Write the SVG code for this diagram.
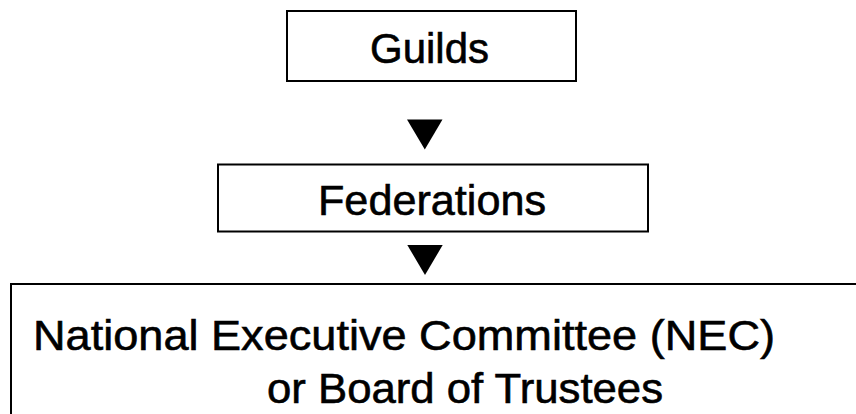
<svg xmlns="http://www.w3.org/2000/svg" width="856" height="414" viewBox="0 0 856 414">
  <style>
    .box { fill: #ffffff; stroke: #000000; stroke-width: 2; }
    .lbl { font-family: "Liberation Sans", "DejaVu Sans", sans-serif; font-size: 43px; fill: #000000; stroke: #000000; stroke-width: 0.6; }
    .arrow { fill: #000000; stroke: none; }
  </style>
  <rect x="0" y="0" width="856" height="414" fill="#ffffff"/>
  <g id="guilds">
    <rect class="box" x="287" y="11" width="289" height="70"/>
    <text class="lbl" x="370" y="63" textLength="119" lengthAdjust="spacingAndGlyphs">Guilds</text>
  </g>
  <g id="federations">
    <rect class="box" x="218" y="164.5" width="430" height="67"/>
    <text class="lbl" x="318" y="215" textLength="228" lengthAdjust="spacingAndGlyphs">Federations</text>
  </g>
  <g id="nec">
    <rect class="box" x="11" y="284" width="870" height="150"/>
    <text class="lbl" x="33" y="350" textLength="742" lengthAdjust="spacingAndGlyphs">National Executive Committee (NEC)</text>
    <text class="lbl" x="267" y="403" textLength="396" lengthAdjust="spacingAndGlyphs">or Board of Trustees</text>
  </g>
  <g id="connectors">
    <polygon class="arrow" points="407,119.5 442.5,119.5 424.8,149.5"/>
    <polygon class="arrow" points="407.3,245 442.7,245 425,275"/>
  </g>
</svg>
